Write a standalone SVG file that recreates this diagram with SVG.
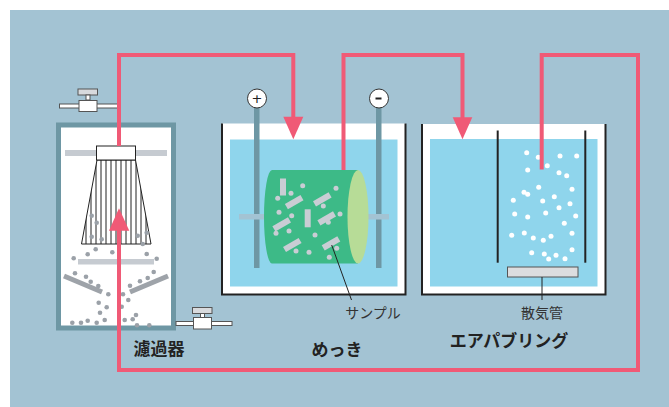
<svg xmlns="http://www.w3.org/2000/svg" width="669" height="407" viewBox="0 0 669 407">
  <style>
    .pipe { fill: none; stroke: #f05a76; stroke-width: 4; stroke-linejoin: miter; }
    .arrow { fill: #f05a76; }
    .tank { fill: #ffffff; }
    .wall { fill: none; stroke: #222; stroke-width: 2; }
    .water { fill: #8fd5ec; }
    .rod { fill: #6e97a4; }
    .bar { fill: #c6cbd1; }
    .grain { fill: #9ba1a8; }
    .chip { fill: #c9cdd4; }
    .bubble { fill: #ffffff; }
    .valve { fill: #ffffff; stroke: #555; stroke-width: 1; }
    .lead { stroke: #222; stroke-width: 1; fill: none; }
    .label { font-family: "Noto Sans CJK JP", "Noto Sans", sans-serif; fill: #222; font-weight: bold; font-size: 17px; text-anchor: middle; }
    .note { font-family: "Noto Sans CJK JP", "Noto Sans", sans-serif; fill: #333; font-size: 14px; text-anchor: middle; }
  </style>
  <defs>
    <clipPath id="cartridge-clip">
      <polygon points="97,160 135.5,160 151,244 81.5,244"/>
    </clipPath>
  </defs>

  <!-- background panel -->
  <rect x="10" y="10" width="659" height="397" fill="#a3c3d3"/>

  <!-- filter unit -->
  <g id="filter">
    <rect x="58.5" y="125" width="115" height="203" fill="#ffffff" stroke="#6e97a4" stroke-width="5"/>
    <rect class="bar" x="65" y="150" width="102" height="6"/>
    <rect class="bar" x="78" y="259" width="76" height="5.5"/>
    <line x1="64" y1="276" x2="102" y2="292" stroke="#9ea3a9" stroke-width="5"/>
    <line x1="130" y1="292" x2="168" y2="276" stroke="#9ea3a9" stroke-width="5"/>
    <!-- filter cartridge: pleats clipped to the tapered body -->
    <polygon points="97,160 135.5,160 151,244 81.5,244" fill="#ffffff"/>
    <g stroke="#222" stroke-width="1" clip-path="url(#cartridge-clip)">
      <line x1="86" y1="160" x2="86" y2="244"/>
      <line x1="91" y1="160" x2="91" y2="244"/>
      <line x1="96" y1="160" x2="96" y2="244"/>
      <line x1="101" y1="160" x2="101" y2="244"/>
      <line x1="106" y1="160" x2="106" y2="244"/>
      <line x1="111" y1="160" x2="111" y2="244"/>
      <line x1="116" y1="160" x2="116" y2="244"/>
      <line x1="121" y1="160" x2="121" y2="244"/>
      <line x1="126" y1="160" x2="126" y2="244"/>
      <line x1="131" y1="160" x2="131" y2="244"/>
      <line x1="136" y1="160" x2="136" y2="244"/>
      <line x1="141" y1="160" x2="141" y2="244"/>
      <line x1="146" y1="160" x2="146" y2="244"/>
    </g>
    <polygon points="97,160 135.5,160 151,244 81.5,244" fill="none" stroke="#222" stroke-width="1"/>
    <rect x="96.5" y="146" width="39" height="14" fill="#ffffff" stroke="#222" stroke-width="1"/>
    <!-- settled particles -->
    <g class="grain">
      <circle cx="91.7" cy="215.7" r="2.3"/><circle cx="96.7" cy="222.7" r="2.3"/>
      <circle cx="91.7" cy="236.7" r="2.3"/><circle cx="101.7" cy="239.3" r="2.3"/>
      <circle cx="137.7" cy="235.7" r="2.3"/><circle cx="146.7" cy="232.7" r="2.3"/>
      <circle cx="142.7" cy="244" r="2.3"/><circle cx="73.7" cy="258.3" r="2.3"/>
      <circle cx="87.7" cy="254.3" r="2.3"/><circle cx="95.7" cy="249.3" r="2.3"/>
      <circle cx="112.3" cy="252.3" r="2.3"/><circle cx="146.7" cy="254" r="2.3"/>
      <circle cx="156.7" cy="258.7" r="2.3"/><circle cx="75" cy="273.3" r="2.3"/>
      <circle cx="86" cy="276.7" r="2.3"/><circle cx="90.7" cy="281.7" r="2.3"/>
      <circle cx="98.3" cy="286" r="2.3"/><circle cx="153.7" cy="272" r="2.3"/>
      <circle cx="147.7" cy="278" r="2.3"/><circle cx="140" cy="281.3" r="2.3"/>
      <circle cx="130" cy="285.7" r="2.3"/><circle cx="108.3" cy="294.3" r="2.3"/>
      <circle cx="123" cy="294.3" r="2.3"/><circle cx="128.3" cy="300" r="2.3"/>
      <circle cx="98.7" cy="302.7" r="2.3"/><circle cx="106.7" cy="307.3" r="2.3"/>
      <circle cx="100" cy="312.7" r="2.3"/><circle cx="121.7" cy="306.7" r="2.3"/>
      <circle cx="136" cy="315" r="2.3"/><circle cx="132.7" cy="319.3" r="2.3"/>
      <circle cx="72.3" cy="322.7" r="2.3"/><circle cx="81" cy="322.7" r="2.3"/>
      <circle cx="87.7" cy="320.7" r="2.3"/><circle cx="96.7" cy="322.7" r="2.3"/>
      <circle cx="104.7" cy="320" r="2.3"/><circle cx="124.7" cy="320" r="2.3"/>
      <circle cx="137" cy="325.3" r="2.3"/><circle cx="149.3" cy="325.3" r="2.3"/>
    </g>
    <text class="label" x="159" y="355" font-size="18">濾過器</text>
  </g>

  <!-- inlet valve -->
  <g id="valve-in">
    <rect class="valve" x="59.5" y="104" width="60" height="4"/>
    <rect x="78" y="89" width="19.5" height="6" fill="#d8dadd" stroke="#555" stroke-width="1"/>
    <rect class="valve" x="86" y="95" width="4" height="5"/>
    <rect class="valve" x="79" y="100.5" width="18" height="11"/>
  </g>

  <!-- outlet valve -->
  <g id="valve-out">
    <rect class="valve" x="176" y="321.5" width="56" height="4"/>
    <rect x="192.5" y="307.5" width="19.5" height="6" fill="#d8dadd" stroke="#555" stroke-width="1"/>
    <rect class="valve" x="200.5" y="313.5" width="4" height="4.5"/>
    <rect class="valve" x="193.5" y="317.5" width="18" height="11.5"/>
  </g>

  <!-- plating tank -->
  <g id="plating">
    <rect class="tank" x="222" y="123.5" width="183.5" height="171"/>
    <polyline class="wall" points="222,123.5 222,294.5 405.5,294.5 405.5,123.5"/>
    <rect class="water" x="230" y="139.5" width="167.5" height="147"/>
    <!-- electrodes -->
    <rect class="rod" x="254" y="107" width="5.5" height="161"/>
    <rect class="rod" x="376" y="107" width="5.5" height="161"/>
    <circle cx="257" cy="98.5" r="9.5" fill="#ffffff" stroke="#333" stroke-width="1"/>
    <circle cx="379" cy="98.5" r="9.5" fill="#ffffff" stroke="#333" stroke-width="1"/>
    <text x="257" y="103" font-family="DejaVu Sans, sans-serif" font-size="13" text-anchor="middle" fill="#222">+</text>
    <rect x="375.5" y="97.5" width="6" height="2" fill="#222"/>
    <!-- rotating drum -->
    <rect x="239" y="214" width="26" height="5.5" fill="#a3c3d3"/>
    <rect x="357" y="214" width="32" height="5.5" fill="#a3c3d3"/>
    <path d="M272,170 L358,170 L358,263.5 L272,263.5 A8,46.75 0 0 1 272,170 Z" fill="#3dba87"/>
    <ellipse cx="358" cy="216.75" rx="10.5" ry="46.75" fill="#b7dc97"/>
    <g class="chip">
      <rect x="280" y="178.5" width="6" height="17"/>
      <circle cx="291" cy="193.3" r="2.5"/>
      <rect x="285" y="199" width="18" height="6" transform="rotate(-30 294.3 201.7)"/>
      <circle cx="302.7" cy="185.7" r="2.5"/>
      <circle cx="336" cy="188.3" r="2.5"/>
      <rect x="313.3" y="196.3" width="18" height="6" transform="rotate(-30 322.3 199.3)"/>
      <circle cx="323.3" cy="206" r="2.5"/>
      <circle cx="277.7" cy="198.3" r="2.5"/>
      <circle cx="279" cy="212.3" r="2.5"/>
      <circle cx="291.7" cy="215.7" r="2.5"/>
      <rect x="304.7" y="209.3" width="6" height="18"/>
      <rect x="317.7" y="215.3" width="18" height="6" transform="rotate(-30 326.7 218.3)"/>
      <circle cx="328.3" cy="222.3" r="2.5"/>
      <circle cx="340" cy="214" r="2.5"/>
      <rect x="272.7" y="221.3" width="18" height="6" transform="rotate(-30 281.7 224.3)"/>
      <circle cx="276" cy="233.3" r="2.5"/>
      <circle cx="289" cy="231" r="2.5"/>
      <circle cx="315" cy="235" r="2.5"/>
      <rect x="283.3" y="242" width="18" height="6" transform="rotate(-30 292.3 245)"/>
      <circle cx="296" cy="251" r="2.5"/>
      <circle cx="309" cy="252.3" r="2.5"/>
      <rect x="322" y="240.3" width="18" height="6" transform="rotate(-30 331 243.3)"/>
      <circle cx="336.7" cy="248.3" r="2.5"/>
      <circle cx="329.3" cy="257.3" r="2.5"/>
    </g>
    <line class="lead" x1="331.7" y1="245" x2="351.5" y2="300"/>
    <text class="note" x="373" y="318">サンプル</text>
    <text class="label" x="337" y="356">めっき</text>
  </g>

  <!-- air bubbling tank -->
  <g id="bubbling">
    <rect class="tank" x="422" y="124" width="183.5" height="170.5"/>
    <polyline class="wall" points="422,124 422,294.5 605.5,294.5 605.5,124"/>
    <rect class="water" x="430" y="139" width="167.5" height="147.5"/>
    <line x1="497.7" y1="130.5" x2="497.7" y2="262.7" stroke="#222" stroke-width="2"/>
    <line x1="585.3" y1="130.5" x2="585.3" y2="262.7" stroke="#222" stroke-width="2"/>
    <g class="bubble">
      <circle cx="526.7" cy="152.7" r="2.5"/><circle cx="538.3" cy="157.3" r="2.5"/>
      <circle cx="560" cy="156" r="2.5"/><circle cx="576.7" cy="156" r="2.5"/>
      <circle cx="527.7" cy="170" r="2.5"/><circle cx="547.3" cy="165.7" r="2.5"/>
      <circle cx="559" cy="172.7" r="2.5"/><circle cx="566.7" cy="175.7" r="2.5"/>
      <circle cx="538.7" cy="187.3" r="2.5"/><circle cx="572" cy="189.3" r="2.5"/>
      <circle cx="524" cy="192.3" r="2.5"/><circle cx="527.7" cy="194.3" r="2.5"/>
      <circle cx="554.3" cy="196.7" r="2.5"/><circle cx="513.3" cy="200.3" r="2.5"/>
      <circle cx="542.7" cy="201" r="2.5"/><circle cx="570" cy="203.7" r="2.5"/>
      <circle cx="559" cy="207.7" r="2.5"/><circle cx="514.7" cy="214" r="2.5"/>
      <circle cx="545.7" cy="213" r="2.5"/><circle cx="575.7" cy="216" r="2.5"/>
      <circle cx="527.7" cy="217" r="2.5"/><circle cx="564.3" cy="223.3" r="2.5"/>
      <circle cx="511.7" cy="235.3" r="2.5"/><circle cx="524.3" cy="233" r="2.5"/>
      <circle cx="572" cy="233.3" r="2.5"/><circle cx="533.3" cy="238" r="2.5"/>
      <circle cx="543.3" cy="240.3" r="2.5"/><circle cx="551" cy="236.3" r="2.5"/>
      <circle cx="572" cy="249.7" r="2.5"/><circle cx="531.7" cy="252.7" r="2.5"/>
      <circle cx="544.3" cy="254" r="2.5"/><circle cx="548.7" cy="259" r="2.5"/>
      <circle cx="556" cy="255.3" r="2.5"/><circle cx="565" cy="258.7" r="2.5"/>
    </g>
    <!-- air diffuser -->
    <rect x="507.5" y="267" width="70.5" height="10" fill="#dcdddf" stroke="#555" stroke-width="1"/>
    <line class="lead" x1="542" y1="277" x2="542" y2="300"/>
    <text class="note" x="542" y="318">散気管</text>
    <text class="label" x="509" y="347">エアパブリング</text>
  </g>

  <!-- circulation line -->
  <g id="connectors">
    <polyline class="pipe" points="119,230 119,370 638,370 638,55 541.7,55 541.7,169.5"/>
    <polyline class="pipe" points="119,146 119,55 293.3,55 293.3,120"/>
    <polyline class="pipe" points="343.5,170 343.5,55 462.5,55 462.5,120"/>
    <polygon class="arrow" points="109,230.7 129.3,230.7 119,208.3"/>
    <polygon class="arrow" points="283.3,116.7 303.3,116.7 293.3,139.3"/>
    <polygon class="arrow" points="452.7,117.3 472.3,117.3 462.5,139.3"/>
  </g>
</svg>
